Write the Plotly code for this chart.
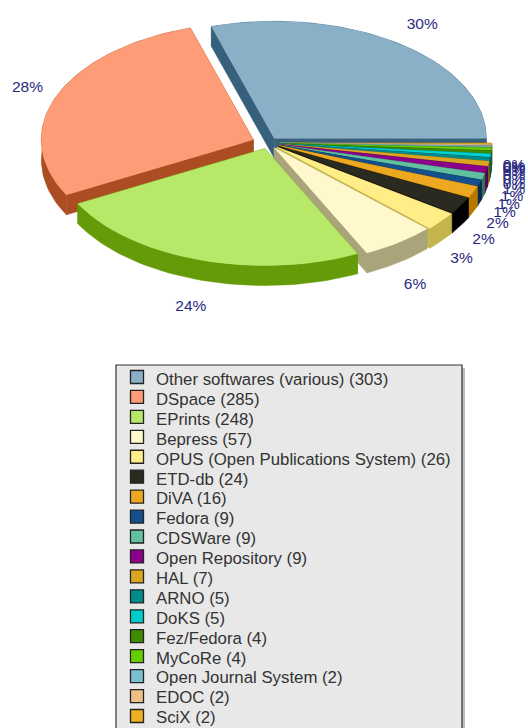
import math
import plotly.graph_objects as go

names = ["Other softwares (various)", "DSpace", "EPrints", "Bepress",
         "OPUS (Open Publications System)", "ETD-db", "DiVA", "Fedora", "CDSWare",
         "Open Repository", "HAL", "ARNO", "DoKS", "Fez/Fedora", "MyCoRe",
         "Open Journal System", "EDOC", "SciX"]
values = [303, 285, 248, 57, 26, 24, 16, 9, 9, 9, 7, 5, 5, 4, 4, 2, 2, 2]
colors = ["#8ab0c8", "#fd9c76", "#b8e868", "#fff8cc", "#ffee88", "#2a2a20", "#eca820",
          "#14508c", "#60c0a0", "#8b008b", "#daa520", "#008b8b", "#00cdcd", "#3e8b00",
          "#66cd00", "#7ac0d0", "#eec088", "#eeb020"]
side_colors = ["#36607c", "#ab4c22", "#659a08", "#aaa47a", "#c4b44c", "#000000", "#b87800",
               "#0a2c50", "#38705c", "#500050", "#80600f", "#005050", "#007878", "#245000",
               "#3c7800", "#487080", "#8c7050", "#8c6810"]
explode = [0.05, 0.075, 0.05, 0.05] + [0.055] * 14

CX, CY, RX, RY, DEPTH = 268, 143, 212, 117, 20
LABEL_RX_TOP, LABEL_RX_LOW, LABEL_RY, LABEL_XMAX = 260, 250, 149, 514
total = sum(values)


def pt(a, ox, oy):
    return ox + RX * math.cos(a), oy - RY * math.sin(a)


def poly(points, color, width=0.5):
    fig.add_trace(go.Scatter(x=[p[0] for p in points] + [points[0][0]],
                             y=[p[1] for p in points] + [points[0][1]],
                             mode="lines", fill="toself", fillcolor=color,
                             line=dict(color=color, width=width), hoverinfo="skip"))


slices = []
start = 0.0
for i, v in enumerate(values):
    sweep = v / total * 2 * math.pi
    slices.append((i, start, start + sweep))
    start += sweep

fig = go.Figure()
fig.add_shape(type="rect", x0=119, y0=368, x1=465, y1=740, fillcolor="#bdbdbd", line_width=0, layer="below")
fig.add_shape(type="rect", x0=116, y0=365, x1=462, y1=740, fillcolor="#e8e8e8",
              line=dict(color="#333333", width=1.2), layer="below")

for i, a0, a1 in sorted(slices, key=lambda s: -math.sin((s[1] + s[2]) / 2)):
    mid = (a0 + a1) / 2
    ox = CX + explode[i] * RX * math.cos(mid)
    oy = CY - explode[i] * RY * math.sin(mid)
    n = max(2, int((a1 - a0) / 0.03))
    arc = [pt(a0 + (a1 - a0) * k / n, ox, oy) for k in range(n + 1)]
    low = [(x, y + DEPTH) for x, y in arc]
    s = side_colors[i]
    poly([(ox, oy), arc[0], low[0], (ox, oy + DEPTH)], s)
    poly([(ox, oy), arc[-1], low[-1], (ox, oy + DEPTH)], s)
    poly(arc + low[::-1], s)
    poly([(ox, oy)] + arc, colors[i], 0.3)

lx, ly, lt = [], [], []
for i, a0, a1 in slices:
    mid = (a0 + a1) / 2
    s = math.sin(mid)
    rx = LABEL_RX_TOP if s > 0 else LABEL_RX_LOW
    lx.append(min(CX + rx * math.cos(mid), LABEL_XMAX))
    ly.append(CY + 2 - LABEL_RY * s + (DEPTH if s < 0 else 0))
    lt.append(f"{round(values[i] / total * 100)}%")
fig.add_trace(go.Scatter(x=lx, y=ly, mode="text", text=lt, textposition="middle center",
                         textfont=dict(family="Liberation Sans", size=15.5, color="#2a2a80"),
                         hoverinfo="skip"))

swatch_rows = [377 + 19.94 * k for k in range(len(names))]
text_rows = [381 + 19.88 * k for k in range(len(names))]
fig.add_trace(go.Scatter(x=[137] * len(names), y=swatch_rows, mode="markers",
                         marker=dict(symbol="square", size=13, color=colors,
                                     line=dict(color="#222222", width=1.3)), hoverinfo="skip"))
fig.add_trace(go.Scatter(x=[156] * len(names), y=text_rows, mode="text",
                         text=[f"{n} ({v})" for n, v in zip(names, values)],
                         textposition="middle right",
                         textfont=dict(family="Liberation Sans", size=16.8, color="#333333"),
                         hoverinfo="skip"))

fig.update_layout(width=528, height=728, margin=dict(l=0, r=0, t=0, b=0), showlegend=False,
                  paper_bgcolor="white", plot_bgcolor="white",
                  xaxis=dict(range=[0, 528], visible=False, fixedrange=True),
                  yaxis=dict(range=[728, 0], visible=False, fixedrange=True))
fig.write_html("out.html", config={"displayModeBar": False},
               post_script="document.body.style.margin='0';document.documentElement.style.overflow='hidden';")
